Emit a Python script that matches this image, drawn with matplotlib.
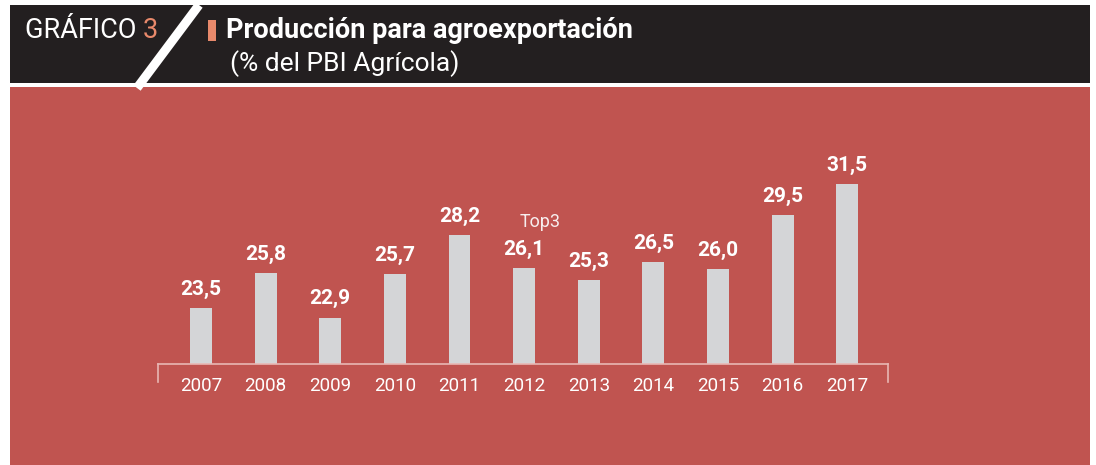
import matplotlib
matplotlib.use("Agg")
import matplotlib.pyplot as plt
from matplotlib.patches import Rectangle
from matplotlib.lines import Line2D
from matplotlib import font_manager

years = ["2007", "2008", "2009", "2010", "2011", "2012", "2013", "2014", "2015", "2016", "2017"]
values = [23.5, 25.8, 22.9, 25.7, 28.2, 26.1, 25.3, 26.5, 26.0, 29.5, 31.5]
title = "Producción para agroexportación"
subtitle = "(% del PBI Agrícola)"
chart_tag = "GRÁFICO"
chart_num = "3"
note = "Top3"

installed = {f.name for f in font_manager.fontManager.ttflist}
cond = "Liberation Sans Narrow" if "Liberation Sans Narrow" in installed else "Roboto"
FAM = [cond, "DejaVu Sans"]
FAM_T = ["Roboto", "DejaVu Sans"]

W, H = 1096, 465
fig = plt.figure(figsize=(W / 100, H / 100), dpi=100)
fig.patch.set_facecolor("white")

def fx(x):
    return x / W

def fy(y):
    return 1 - y / H

RED = "#c05450"
DARK = "#231f20"
SALMON = "#e8896b"
BAR = "#d4d5d7"

# header and panel
fig.patches.append(Rectangle((fx(10), fy(83)), fx(1080), 78 / H, transform=fig.transFigure,
                             facecolor=DARK, edgecolor="none", zorder=-5))
fig.patches.append(Rectangle((fx(10), 0), fx(1080), fy(87), transform=fig.transFigure,
                             facecolor=RED, edgecolor="none", zorder=-5))
# slash
fig.lines.append(Line2D([fx(199), fx(137)], [fy(5), fy(88)], transform=fig.transFigure,
                        color="white", lw=6.5, solid_capstyle="butt", zorder=-4))
# salmon marker
fig.patches.append(Rectangle((fx(208), fy(41)), fx(8), 21 / H, transform=fig.transFigure,
                             facecolor=SALMON, edgecolor="none", zorder=-4))

t1 = fig.text(fx(25), fy(31), chart_tag + " ", color="white", fontsize=19.5, va="center", ha="left",
              family=FAM_T)
fig.canvas.draw()
bb = t1.get_window_extent()
fig.text(bb.x1 / W, fy(31), chart_num, color=SALMON, fontsize=19.5, va="center", ha="left", family=FAM_T)
fig.text(fx(226), fy(31), title, color="white", fontsize=19.5, fontweight="bold", va="center",
         ha="left", family=FAM_T)
fig.text(fx(230), fy(64), subtitle, color="white", fontsize=19, va="center", ha="left", family=FAM_T)

# chart axes
ax = fig.add_axes([fx(158), fy(364), fx(888) - fx(158), (364 - 140) / H])
ax.set_zorder(2)
ax.set_facecolor("none")
x = list(range(len(years)))
base = 19.9
ax.bar(x, [v - base for v in values], bottom=base, width=0.34, color=BAR, zorder=2)
ax.set_xlim(-0.665, 10.63)
ax.set_ylim(base, base + (364 - 140) / 15.5)
for i, v in zip(x, values):
    ax.annotate(f"{v:.1f}".replace(".", ","), (i, v), xytext=(0, 6.5), textcoords="offset points",
                ha="center", va="bottom", color="white", fontsize=15, fontweight="bold",
                family=FAM_T)
ax.text(5.25, 29.06, note, ha="center", va="center", color="#f7eeee", fontsize=13, family=FAM)

ax.set_xticks(x)
ax.set_xticklabels(years, color="white", fontsize=13.5, family=FAM)
ax.tick_params(axis="x", length=0, pad=9)
ax.set_yticks([])
for s in ["top", "left", "right"]:
    ax.spines[s].set_visible(False)
ax.spines["bottom"].set_color("#e8b7b3")
ax.spines["bottom"].set_linewidth(1.2)
for xe in (0, 1):
    ax.plot([xe, xe], [0, -0.08], transform=ax.transAxes, clip_on=False, color="#e8b7b3", lw=1.2)

fig.savefig("out.png", dpi=100, facecolor="white")
